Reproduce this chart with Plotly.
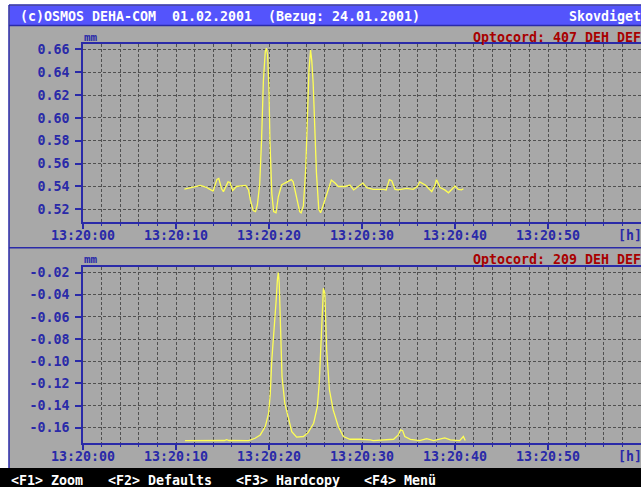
import plotly.graph_objects as go

W, H = 641, 487

# ---- data (seconds after 13:20:00, value in mm) ----
top_t = [10.9, 11.5, 12.2, 12.6, 13.2, 13.65, 14.0, 14.4, 14.6, 14.9, 15.1, 15.6, 15.8, 16.1, 16.5,
         17.0, 17.5, 17.8, 18.0, 18.3, 18.55, 18.75, 19.0, 19.2, 19.4, 19.6, 19.72, 19.85, 20.0,
         20.1, 20.3, 20.5, 20.75, 21.0, 21.35, 21.7, 22.0, 22.4, 22.6, 22.97, 23.3, 23.45, 23.7,
         23.95, 24.1, 24.3, 24.47, 24.6, 24.75, 24.9, 25.1, 25.35, 25.55, 25.8, 26.2, 26.7,
         27.1, 27.45, 28.2, 28.7, 29.1, 29.4, 30.1, 30.5, 31.2, 32.3, 32.6, 32.94, 33.2, 33.55,
         33.9, 34.8, 35.5, 35.95, 36.2, 36.8, 37.1, 37.5, 37.85, 38.0, 38.4, 38.9, 39.3, 40.0,
         40.35, 40.7, 40.9]
top_v = [0.5376, 0.5385, 0.5400, 0.5410, 0.5395, 0.5375, 0.5360, 0.5462, 0.5470, 0.5380, 0.5355,
         0.5440, 0.5435, 0.5365, 0.5400, 0.5405, 0.5410, 0.5370, 0.5280, 0.5190, 0.5180, 0.5240,
         0.5420, 0.5806, 0.6330, 0.6580, 0.6610, 0.6550, 0.6240, 0.5800, 0.5340, 0.5180, 0.5170,
         0.5310, 0.5413, 0.5430, 0.5445, 0.5460, 0.5440, 0.5310, 0.5180, 0.5170, 0.5230, 0.5560,
         0.5900, 0.6420, 0.6594, 0.6500, 0.6300, 0.6000, 0.5520, 0.5200, 0.5170, 0.5230, 0.5340,
         0.5456, 0.5430, 0.5400, 0.5400, 0.5413, 0.5370, 0.5390, 0.5430, 0.5390, 0.5375, 0.5375,
         0.5370, 0.5460, 0.5450, 0.5375, 0.5370, 0.5384, 0.5375, 0.5400, 0.5440, 0.5413, 0.5390,
         0.5355, 0.5410, 0.5460, 0.5390, 0.5370, 0.5345, 0.5404, 0.5375, 0.5370, 0.5380]

bot_t = [10.97, 13.0, 15.2, 15.45, 15.7, 17.8, 18.5, 19.06, 19.6, 19.96, 20.14, 20.3, 20.5, 20.65,
         20.75, 20.9, 21.0, 21.1, 21.3, 21.4, 21.7, 22.1, 22.45, 22.97, 23.7, 24.2, 24.8, 25.2,
         25.4, 25.56, 25.7, 25.85, 26.0, 26.2, 26.5, 26.9, 27.45, 28.0, 28.7, 29.4, 29.8, 30.9,
         31.2, 33.4, 33.9, 34.15, 34.37, 34.6, 35.2, 36.2, 36.95, 37.7, 38.9, 39.5, 40.5, 40.9,
         41.1]
bot_v = [-0.1717, -0.1716, -0.1716, -0.1708, -0.1716, -0.1717, -0.1696, -0.1666, -0.1590, -0.1470,
         -0.1290, -0.0988, -0.0778, -0.0657, -0.0476, -0.0266, -0.0200, -0.0296, -0.0747, -0.1140,
         -0.1380, -0.1530, -0.1636, -0.1686, -0.1680, -0.1645, -0.1560, -0.1410, -0.1200, -0.0898,
         -0.0597, -0.0341, -0.0386, -0.0898, -0.1260, -0.1440, -0.1590, -0.1680, -0.1705, -0.1702,
         -0.1705, -0.1710, -0.1717, -0.1705, -0.1666, -0.1620, -0.1627, -0.1680, -0.1705, -0.1717,
         -0.1699, -0.1717, -0.1693, -0.1710, -0.1717, -0.1680, -0.1717]

x_tickvals = [0, 10, 20, 30, 40, 50]
x_ticktext = ["13:20:00", "13:20:10", "13:20:20", "13:20:30", "13:20:40", "13:20:50"]
top_tickvals = [0.52, 0.54, 0.56, 0.58, 0.60, 0.62, 0.64, 0.66]
top_ticktext = ["0.52", "0.54", "0.56", "0.58", "0.60", "0.62", "0.64", "0.66"]
bot_tickvals = [-0.16, -0.14, -0.12, -0.10, -0.08, -0.06, -0.04, -0.02]
bot_ticktext = ["-0.16", "-0.14", "-0.12", "-0.10", "-0.08", "-0.06", "-0.04", "-0.02"]

title_parts = [("(c)OSMOS DEHA-COM", 18), ("01.02.2001", 170), ("(Bezug: 24.01.2001)", 266),
               ("Skovdiget", 567)]
menu_parts = [("&lt;F1&gt; Zoom", 9), ("&lt;F2&gt; Defaults", 105.5),
              ("&lt;F3&gt; Hardcopy", 234), ("&lt;F4&gt; Menü", 362)]
top_label = "Optocord: 407 DEH DEF"
bot_label = "Optocord: 209 DEH DEF"

# ---- style ----
GREY = "#A8A8A8"
BLUE = "#2A2AA8"
LBLUE = "#5454FC"
RED = "#A80000"
YEL = "#FFFF54"
GRID = "#505050"
FONT = "DejaVu Sans Mono"
FS = 13.3


def px(x):
    return x / W


def py(y):
    return 1 - y / H


fig = go.Figure()
fig.add_trace(go.Scatter(x=top_t, y=top_v, mode="lines", line=dict(color=YEL, width=1.3),
                         xaxis="x", yaxis="y", hoverinfo="skip"))
fig.add_trace(go.Scatter(x=bot_t, y=bot_v, mode="lines", line=dict(color=YEL, width=1.3),
                         xaxis="x2", yaxis="y2", hoverinfo="skip"))

tickfont = dict(family=FONT, size=FS, color=BLUE, weight="bold")


def xax(anchor):
    return dict(domain=[px(83), 1], range=[0, 60], anchor=anchor,
                tickmode="array", tickvals=x_tickvals, ticktext=x_ticktext,
                ticks="outside", ticklen=6, tickwidth=1.5, tickcolor=BLUE,
                showline=True, linecolor=BLUE, linewidth=1.5, mirror=True,
                showgrid=True, gridcolor=GRID, gridwidth=1, griddash="3px,2px",
                minor=dict(tickmode="linear", tick0=0, dtick=2, ticks="outside", ticklen=3,
                           tickcolor=BLUE, tickwidth=1, showgrid=True, gridcolor=GRID,
                           gridwidth=1, griddash="3px,2px"),
                tickfont=tickfont, ticklabelstandoff=-5, zeroline=False, fixedrange=True,
                automargin=False)


def yax(anchor, dom, rng, tv, tt):
    return dict(domain=dom, range=rng, anchor=anchor,
                tickmode="array", tickvals=tv, ticktext=tt,
                ticks="outside", ticklen=6, tickwidth=1.5, tickcolor=BLUE,
                showline=True, linecolor=BLUE, linewidth=1.5, mirror=False,
                showgrid=True, gridcolor=GRID, gridwidth=1, griddash="3px,2px",
                tickfont=tickfont, ticklabelstandoff=3, zeroline=False, fixedrange=True,
                automargin=False)


shapes = [
    dict(type="rect", xref="paper", yref="paper", x0=px(9), x1=1, y0=py(468), y1=py(5),
         fillcolor=GREY, line=dict(width=0), layer="below"),
    dict(type="rect", xref="paper", yref="paper", x0=px(10), x1=1, y0=py(25), y1=py(6),
         fillcolor=LBLUE, line=dict(width=0), layer="below"),
    dict(type="rect", xref="paper", yref="paper", x0=0, x1=1, y0=0, y1=py(468),
         fillcolor="#000000", line=dict(width=0), layer="below"),
    dict(type="line", xref="paper", yref="paper", x0=px(9), x1=1, y0=py(5), y1=py(5),
         line=dict(color=BLUE, width=1.5)),
    dict(type="line", xref="paper", yref="paper", x0=px(9), x1=px(9), y0=py(468), y1=py(5),
         line=dict(color=BLUE, width=1.5)),
    dict(type="line", xref="paper", yref="paper", x0=px(9), x1=1, y0=py(25.5), y1=py(25.5),
         line=dict(color=BLUE, width=1.5)),
    dict(type="line", xref="paper", yref="paper", x0=px(9), x1=1, y0=py(247.7), y1=py(247.7),
         line=dict(color=BLUE, width=1.5)),
]

ann = []
for txt, x in title_parts:
    ann.append(dict(text=txt, x=px(x), y=py(16), xref="paper", yref="paper",
                    xanchor="left", yanchor="middle", showarrow=False,
                    font=dict(family=FONT, size=FS, color="#FFFFFF", weight="bold")))
for txt, x in menu_parts:
    ann.append(dict(text=txt, x=px(x), y=py(480.5), xref="paper", yref="paper",
                    xanchor="left", yanchor="middle", showarrow=False,
                    font=dict(family=FONT, size=FS, color="#FFFFFF", weight="bold")))
for yy, lab in [(37.7, top_label), (259, bot_label)]:
    ann.append(dict(text="mm", x=px(82), y=py(yy), xref="paper", yref="paper",
                    xanchor="left", yanchor="middle", showarrow=False,
                    font=dict(family=FONT, size=11, color=BLUE, weight="bold")))
    ann.append(dict(text=lab, x=px(471), y=py(yy), xref="paper", yref="paper",
                    xanchor="left", yanchor="middle", showarrow=False,
                    font=dict(family=FONT, size=FS, color=RED, weight="bold")))
for yy in [235, 456]:
    ann.append(dict(text="[h]", x=px(616), y=py(yy), xref="paper", yref="paper",
                    xanchor="left", yanchor="middle", showarrow=False,
                    font=dict(family=FONT, size=FS, color=BLUE, weight="bold")))

fig.update_layout(
    width=W, height=H, margin=dict(l=0, r=0, t=0, b=0, pad=0, autoexpand=False),
    paper_bgcolor="#FFFFFF", plot_bgcolor="rgba(0,0,0,0)",
    showlegend=False, hovermode=False,
    xaxis=xax("y"), xaxis2=xax("y2"),
    yaxis=yax("x", [py(221.7), py(44)], [0.5092, 0.6646], top_tickvals, top_ticktext),
    yaxis2=yax("x2", [py(442.7), py(266.7)], [-0.1736, -0.0146], bot_tickvals, bot_ticktext),
    shapes=shapes, annotations=ann,
)

fig.write_html("out.html", config={"displayModeBar": False},
               post_script="document.body.style.margin='0';document.body.style.overflow='hidden';")
